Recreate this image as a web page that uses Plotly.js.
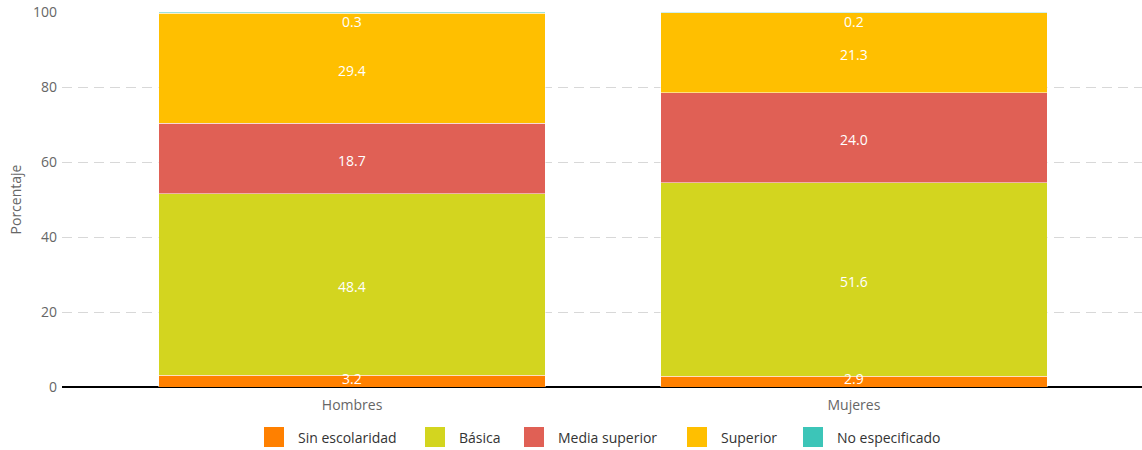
<!DOCTYPE html>
<html>
<head>
<meta charset="utf-8">
<script src="https://cdn.plot.ly/plotly-3.0.1.min.js"></script>
<style>html,body{margin:0;padding:0;background:#fff;}#chart{width:1142px;height:450px;}</style>
</head>
<body>
<div id="chart"></div>
<script>
const categories = ["Hombres", "Mujeres"];
const seriesNames = ["Sin escolaridad", "Básica", "Media superior", "Superior", "No especificado"];
const sinEscolaridad = [3.2, 2.9];
const basica = [48.4, 51.6];
const mediaSuperior = [18.7, 24.0];
const superior = [29.4, 21.3];
const noEspecificado = [0.3, 0.2];
const colors = ["#FF8000", "#D3D51F", "#E06055", "#FFBF00", "#3CC5B8"];
const yTicks = [0, 20, 40, 60, 80, 100];

const series = [sinEscolaridad, basica, mediaSuperior, superior, noEspecificado];
const traces = [];
series.forEach((vals, i) => {
  traces.push({
    type: "bar", x: categories, y: vals, name: seriesNames[i],
    marker: {color: colors[i], line: {color: "#ffffff", width: 0.5}},
    width: 0.77, showlegend: false, hoverinfo: "y+name"
  });
});

const annotations = [];
// value labels
const cum = [0, 0];
series.forEach((vals) => {
  vals.forEach((v, j) => {
    let mid = cum[j] + v / 2;
    mid = Math.min(Math.max(mid, 2.7), 97.9);
    annotations.push({
      xref: "x", yref: "y", x: categories[j], y: mid, text: v.toFixed(1),
      showarrow: false, xanchor: "center", yanchor: "middle", yshift: -2,
      font: {color: "#ffffff", size: 14, family: "Open Sans, sans-serif"}
    });
    cum[j] += v;
  });
});

// custom legend (pixel layout -> paper coords)
const W = 1080, H = 375, L = 62, B = 387;
const legendSquareX = [264, 425, 524, 687, 803];
const shapes = [];
seriesNames.forEach((n, i) => {
  const x0 = legendSquareX[i];
  shapes.push({
    type: "rect", xref: "paper", yref: "paper",
    x0: (x0 - L) / W, x1: (x0 + 20 - L) / W,
    y0: (B - 447) / H, y1: (B - 427) / H,
    fillcolor: colors[i], line: {width: 0}
  });
  annotations.push({
    xref: "paper", yref: "paper", x: (x0 + 32 - L) / W, y: (B - 437) / H,
    xanchor: "left", yanchor: "middle", showarrow: false, text: n,
    font: {size: 14, color: "#333333", family: "Open Sans, sans-serif"}
  });
});

const layout = {
  width: 1142, height: 450,
  margin: {l: 62, r: 0, t: 12, b: 63, autoexpand: false},
  paper_bgcolor: "#ffffff", plot_bgcolor: "#ffffff",
  barmode: "stack",
  font: {family: "Open Sans, sans-serif", color: "#666666", size: 14},
  xaxis: {
    type: "category", range: [-0.578, 1.574], showgrid: false, automargin: false,
    tickfont: {size: 14, color: "#666666"}, ticks: "", showline: false, zeroline: false,
    ticklabelstandoff: 8
  },
  yaxis: {
    range: [0, 100], tickvals: yTicks, ticktext: yTicks.map(String), automargin: false,
    showgrid: true, gridcolor: "#d8d8d8", griddash: "10px,6px", gridwidth: 1,
    zeroline: true, zerolinecolor: "#000000", zerolinewidth: 2,
    tickfont: {size: 14, color: "#666666"}, ticklabelstandoff: 4,
    title: {text: "Porcentaje", font: {size: 14, color: "#666666"}, standoff: 8}
  },
  shapes: shapes,
  annotations: annotations,
  showlegend: false
};
Plotly.newPlot("chart", traces, layout, {displayModeBar: false, staticPlot: true});
</script>
</body>
</html>
